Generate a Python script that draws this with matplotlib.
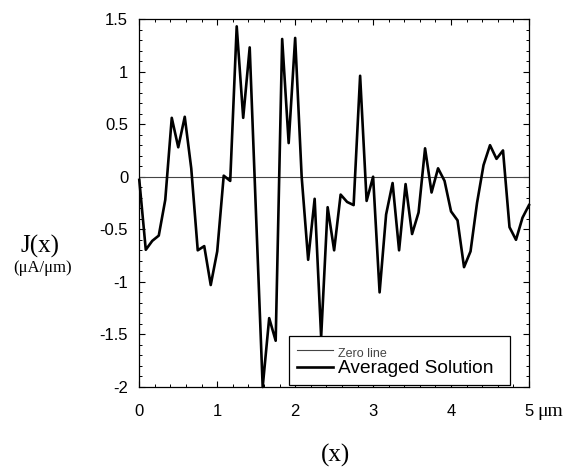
import numpy as np
import matplotlib.pyplot as plt
from matplotlib.lines import Line2D
from matplotlib.ticker import MultipleLocator

# averaged current density, sampled every 1/12 um from 0 to 5 um
x = np.linspace(0, 5, 61)
j_avg = [-0.03, -0.695, -0.61, -0.56, -0.22, 0.56, 0.28, 0.57, 0.08, -0.70,
         -0.66, -1.03, -0.71, 0.01, -0.04, 1.43, 0.56, 1.23, -0.40, -2.0,
         -1.345, -1.56, 1.31, 0.32, 1.32, 0.0, -0.79, -0.21, -1.525, -0.29,
         -0.70, -0.17, -0.24, -0.27, 0.96, -0.23, 0.0, -1.10, -0.36, -0.06,
         -0.70, -0.07, -0.545, -0.34, 0.27, -0.15, 0.08, -0.04, -0.33, -0.415,
         -0.86, -0.71, -0.25, 0.11, 0.30, 0.17, 0.25, -0.48, -0.60, -0.39,
         -0.27]
xticks = [0, 1, 2, 3, 4, 5]
yticks = [-2, -1.5, -1, -0.5, 0, 0.5, 1, 1.5]
ytick_labels = ['-2', '-1.5', '-1', '-0.5', '0', '0.5', '1', '1.5']

sans = 'Liberation Sans'
serif = 'Liberation Serif'

fig = plt.figure(figsize=(5.72, 4.67), dpi=100)
ax = fig.add_axes([0.2435, 0.1713, 0.6813, 0.788])

ax.axhline(0, color='#444444', lw=0.8)
ax.plot(x, j_avg, color='black', lw=1.9, clip_on=False)

ax.set_xlim(0, 5)
ax.set_ylim(-2, 1.5)
ax.set_xticks(xticks)
ax.set_xticklabels([str(t) for t in xticks], fontfamily=sans, fontsize=12)
ax.set_yticks(yticks)
ax.set_yticklabels(ytick_labels, fontfamily=sans, fontsize=12)
ax.xaxis.set_minor_locator(MultipleLocator(0.2))
ax.yaxis.set_minor_locator(MultipleLocator(0.1))
ax.tick_params(which='both', direction='in', top=True, right=True)
ax.tick_params(which='major', length=4.5, width=0.8)
ax.tick_params(which='minor', length=2.5, width=0.7)
ax.tick_params(axis='x', which='major', pad=12)
ax.tick_params(axis='y', which='major', pad=8)
for s in ax.spines.values():
    s.set_linewidth(0.9)

fig.text(40 / 572, 1 - 246 / 467, 'J(x)', fontfamily=serif, fontsize=18,
         ha='center', va='center')
fig.text(43 / 572, 1 - 268 / 467, '(\u03bcA/\u03bcm)', fontfamily=serif,
         fontsize=12, ha='center', va='center')
fig.text(335 / 572, 1 - 455 / 467, '(x)', fontfamily=serif, fontsize=18,
         ha='center', va='center')
fig.text(550 / 572, 1 - 411 / 467, '\u03bcm', fontfamily=serif, fontsize=14,
         ha='center', va='center')

handles = [Line2D([], [], color='#444444', lw=0.8),
           Line2D([], [], color='black', lw=1.9)]
leg = ax.legend(handles, ['Zero line', 'Averaged Solution'],
                loc='lower left', bbox_to_anchor=(0.384, 0.005, 0.567, 0.1),
                mode='expand', borderaxespad=0, fancybox=False,
                edgecolor='black', framealpha=1, handlelength=1.9,
                handletextpad=0.25, labelspacing=0.0, borderpad=0.4,
                prop={'family': sans, 'size': 13.8})
leg.get_frame().set_linewidth(0.9)
leg.get_texts()[0].set_fontsize(9)
leg.get_texts()[0].set_color('#444444')

fig.savefig('out.png', dpi=100)
